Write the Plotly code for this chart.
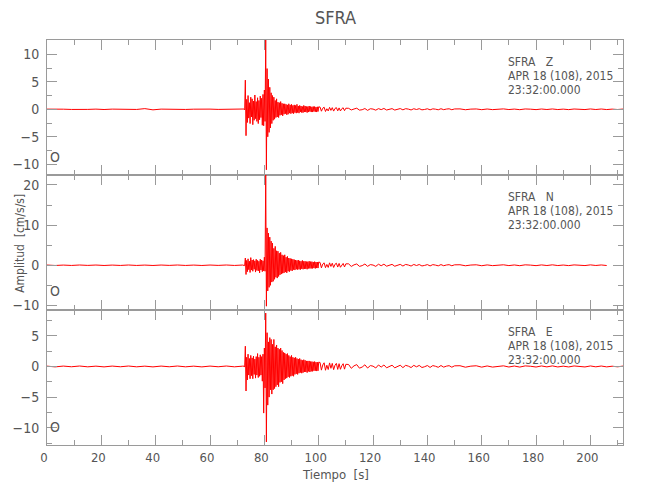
import numpy as np
import plotly.graph_objects as go
from plotly.subplots import make_subplots

# ---- sampling times (s) ----
t_quiet = np.arange(0, 72.01, 3)         # 25 samples
t_dense = np.arange(72.5, 100.01, 0.25)  # 111 samples
t_tail = np.arange(100.5, 110.01, 0.5)   # 20 samples
t_coda1 = np.arange(111, 150.01, 1)      # 40 samples
t_coda2 = np.arange(152, 212.01, 2)      # 31 samples

# ---- Z component (cm/s/s) ----
z_quiet = [0.03, -0.04, 0.02, -0.03, 0.04, -0.02, 0.03, -0.04, 0.03, -0.02, 0.04, -0.03, 0.12,
           -0.1, 0.03, -0.02, 0.04, -0.03, 0.02, -0.04, 0.03, -0.02, 0.04, -0.03, 0.03]
z_dense = [0.05, -0.1, 5.3, -4.8, 1.8, -2.4, 2.5, -1.6, 1.2, -2.6,
           2.2, -1.4, 1.9, -2.8, 1.5, -2.0, 2.6, -1.7, 1.4, -2.2,
           2.1, -2.6, 1.6, -1.9, 2.4, -1.5, 2.0, -2.9, 2.7, -3.0,
           3.5, -2.2, 12.6, -11.0, 7.4, -5.0, 5.5, -4.2, 4.0, -3.4,
           3.0, -2.6, 2.5, -2.0, 2.2, -1.8, 1.6, -1.5, 1.9, -1.4,
           1.3, -1.5, 1.2, -1.1, 1.4, -1.0, 1.1, -1.2, 1.0, -0.9,
           1.0, -0.8, 0.9, -1.0, 0.8, -0.9, 1.0, -0.7, 0.8, -0.8,
           0.9, -0.7, 0.7, -0.8, 0.8, -0.6, 0.7, -0.7, 0.9, -0.6,
           0.6, -0.7, 0.7, -0.5, 0.6, -0.6, 0.5, -0.6, 0.7, -0.5,
           0.6, -0.5, 0.5, -0.6, 0.5, -0.5, 0.6, -0.4, 0.5, -0.5,
           0.45, -0.5, 0.5, -0.4, 0.5, -0.45, 0.4, -0.5, 0.45, -0.4,
           0.45]
z_tail = [0.4, -0.35, 0.2, 0.38, -0.4, 0.1, -0.3, 0.35, -0.2, 0.3,
          -0.33, 0.15, 0.3, -0.28, 0.25, -0.3, 0.1, 0.28, -0.25, 0.2]
z_coda1 = [0.18, -0.12, 0.05, 0.2, -0.15, -0.08, 0.14, -0.2, 0.1, 0.04,
           -0.16, 0.12, -0.06, 0.15, -0.13, 0.02, 0.12, -0.14, -0.05, 0.13,
           -0.1, 0.11, 0.03, -0.12, 0.1, -0.04, 0.11, -0.1, -0.03, 0.09,
           -0.1, 0.08, 0.02, -0.09, 0.1, -0.07, 0.04, 0.09, -0.08, 0.06]
z_coda2 = [0.07, -0.08, 0.03, 0.06, -0.07, 0.05, -0.06, -0.02, 0.07, -0.05,
           0.04, -0.07, 0.06, 0.02, -0.06, 0.05, -0.04, 0.06, -0.05, 0.03,
           -0.06, 0.05, 0.02, -0.05, 0.06, -0.04, 0.05, -0.05, 0.03, -0.04, 0.04]

# ---- N component ----
n_quiet = [0.05, -0.06, 0.04, -0.05, 0.06, -0.04, 0.05, -0.06, 0.04, -0.05, 0.06, -0.05, 0.04,
           -0.06, 0.05, -0.04, 0.06, -0.05, 0.04, -0.06, 0.05, -0.04, 0.06, -0.05, 0.05]
n_dense = [0.05, -0.1, 1.8, -2.3, 1.2, -1.6, 1.6, -1.1, 1.0, -1.8,
           1.9, -1.2, 1.3, -1.5, 1.4, -1.0, 1.1, -1.7, 1.5, -1.3,
           1.2, -1.4, 1.0, -1.9, 1.5, -1.2, 1.3, -1.6, 1.1, -1.4,
           2.0, -1.5, 22.6, -10.2, 9.3, -6.4, 8.0, -5.5, 7.0, -5.0,
           6.0, -4.2, 5.5, -4.0, 4.2, -3.5, 4.7, -3.0, 3.6, -3.2,
           3.5, -2.8, 3.0, -2.4, 3.2, -2.2, 2.6, -2.0, 2.4, -1.9,
           2.6, -1.7, 2.0, -1.9, 2.2, -1.5, 1.8, -1.6, 1.7, -1.3,
           1.6, -1.4, 1.5, -1.1, 1.4, -1.2, 1.3, -1.0, 1.2, -1.1,
           1.3, -1.0, 1.1, -1.1, 1.0, -0.9, 1.2, -1.0, 1.0, -0.9,
           1.0, -0.9, 0.9, -1.0, 0.9, -0.8, 1.0, -0.8, 0.9, -0.8,
           0.9, -0.8, 0.8, -0.7, 0.9, -0.8, 0.8, -0.7, 0.8, -0.7,
           0.8]
n_tail = [0.7, -0.65, 0.3, 0.6, -0.6, 0.2, -0.55, 0.6, -0.3, 0.5,
          -0.55, 0.25, 0.5, -0.45, 0.45, -0.5, 0.15, 0.45, -0.42, 0.35]
n_coda1 = [0.35, -0.3, 0.1, 0.32, -0.28, -0.1, 0.3, -0.27, 0.15, 0.05,
           -0.28, 0.25, -0.12, 0.26, -0.24, 0.05, 0.22, -0.25, -0.08, 0.22,
           -0.2, 0.2, 0.05, -0.2, 0.19, -0.07, 0.18, -0.18, -0.04, 0.16,
           -0.17, 0.15, 0.03, -0.15, 0.16, -0.12, 0.06, 0.14, -0.13, 0.1]
n_coda2 = [0.12, -0.13, 0.05, 0.11, -0.12, 0.08, -0.1, -0.03, 0.11, -0.09,
           0.07, -0.11, 0.1, 0.03, -0.1, 0.08, -0.07, 0.1, -0.08, 0.05,
           -0.09, 0.08, 0.03, -0.08, 0.09, -0.06, 0.07, -0.07]

# ---- E component ----
e_quiet = [0.05, -0.07, 0.06, -0.05, 0.07, -0.06, 0.05, -0.07, 0.06, -0.05, 0.07, -0.06, 0.05,
           -0.07, 0.06, -0.05, 0.07, -0.06, 0.05, -0.07, 0.06, -0.05, 0.07, -0.06, 0.05]
e_dense = [0.05, -0.1, 3.3, -4.0, 1.5, -2.2, 2.0, -1.4, 1.3, -2.0,
           1.8, -1.5, 1.4, -2.0, 1.7, -1.3, 1.2, -1.9, 1.6, -1.4,
           2.1, -1.8, 1.5, -1.6, 1.9, -1.4, 1.6, -2.4, 2.0, -7.6,
           3.0, -3.5, 8.7, -12.3, 5.5, -6.3, 4.0, -5.0, 4.7, -3.8,
           4.4, -4.5, 3.6, -3.8, 4.4, -3.6, 3.2, -3.3, 3.5, -3.0,
           3.0, -3.3, 2.8, -2.6, 3.0, -2.5, 2.6, -2.8, 2.3, -2.2,
           2.2, -2.0, 2.0, -1.9, 2.1, -1.7, 1.8, -1.8, 1.6, -1.6,
           1.8, -1.5, 1.5, -1.6, 1.4, -1.3, 1.5, -1.2, 1.3, -1.3,
           1.2, -1.1, 1.3, -1.0, 1.1, -1.1, 1.0, -1.0, 1.1, -0.9,
           1.0, -0.9, 0.9, -1.0, 0.9, -0.8, 0.9, -0.9, 0.8, -0.8,
           0.8, -0.8, 0.75, -0.7, 0.8, -0.7, 0.7, -0.75, 0.7, -0.7,
           0.7]
e_tail = [0.65, -0.6, 0.25, 0.6, -0.62, 0.2, -0.5, 0.58, -0.3, 0.5,
          -0.52, 0.2, 0.5, -0.48, 0.45, -0.46, 0.12, 0.45, -0.44, 0.35]
e_coda1 = [0.32, -0.3, 0.1, 0.3, -0.28, -0.1, 0.27, -0.26, 0.14, 0.05,
           -0.25, 0.24, -0.1, 0.24, -0.22, 0.05, 0.2, -0.22, -0.07, 0.2,
           -0.19, 0.18, 0.05, -0.18, 0.18, -0.06, 0.17, -0.17, -0.04, 0.15,
           -0.16, 0.14, 0.03, -0.14, 0.15, -0.11, 0.05, 0.13, -0.12, 0.1]
e_coda2 = [0.12, -0.12, 0.05, 0.11, -0.11, 0.08, -0.1, -0.03, 0.1, -0.09,
           0.07, -0.1, 0.09, 0.03, -0.09, 0.08, -0.07, 0.09, -0.08, 0.05,
           -0.08, 0.08, 0.03, -0.08, 0.08, -0.06, 0.07, -0.07, 0.04, -0.06, 0.06]

components = ["Z", "N", "E"]
station = "SFRA"
date_line = "APR 18 (108), 2015"
time_line = "23:32:00.000"
y_ranges = [[-11.95, 12.6], [-11.15, 22.48], [-12.8, 9.2]]
y_dticks = [5, 10, 5]
o_marks = [-8.7, -6.4, -9.8]


def build(parts):
    vals = [v for p in parts for v in p]
    times = np.concatenate([t_quiet, t_dense, t_tail, t_coda1, t_coda2])[:len(vals)]
    return times, np.array(vals)


series = [build([z_quiet, z_dense, z_tail, z_coda1, z_coda2]),
          build([n_quiet, n_dense, n_tail, n_coda1, n_coda2]),
          build([e_quiet, e_dense, e_tail, e_coda1, e_coda2])]

FONT = "DejaVu Sans Condensed, Liberation Sans Narrow, Roboto, sans-serif"
TXT = "#555555"
AX = "#9a9a9a"

fig = make_subplots(rows=3, cols=1, shared_xaxes=True, vertical_spacing=0)

for i, (tt, vv) in enumerate(series):
    fig.add_trace(go.Scatter(x=tt, y=vv, mode="lines",
                             line=dict(color="#ff0000", width=1),
                             showlegend=False, hoverinfo="skip"),
                  row=i + 1, col=1)

for i in range(3):
    r = i + 1
    fig.update_yaxes(row=r, col=1, range=y_ranges[i], dtick=y_dticks[i],
                     ticks="inside", ticklen=10, tickcolor=AX, tickwidth=1,
                     minor=dict(ticks="inside", ticklen=5, dtick=y_dticks[i] / 2,
                                tickcolor=AX, showgrid=False),
                     showline=True, linecolor=AX, linewidth=1, mirror="ticks",
                     showgrid=False, zeroline=False, automargin=False,
                     ticklabelstandoff=4,
                     tickfont=dict(family=FONT, size=14, color=TXT))
    fig.update_xaxes(row=r, col=1, range=[0, 212], dtick=20,
                     ticks="inside", ticklen=10, tickcolor=AX, tickwidth=1,
                     minor=dict(ticks="inside", ticklen=5, dtick=10,
                                tickcolor=AX, showgrid=False),
                     showline=True, linecolor=AX, linewidth=1, mirror="ticks",
                     showgrid=False, zeroline=False, automargin=False,
                     showticklabels=(r == 3), ticklabelshift=-3,
                     tickfont=dict(family=FONT, size=13, color=TXT))

    yref = "y domain" if r == 1 else f"y{r} domain"
    xref = "x" if r == 1 else f"x{r}"
    lines = [station + "\u00a0\u00a0\u00a0" + components[i], date_line, time_line]
    for txt, yy in zip(lines, [0.839, 0.735, 0.630]):
        fig.add_annotation(x=169, y=yy, xref=xref, yref=yref, text=txt,
                           showarrow=False, xanchor="left", yanchor="middle",
                           font=dict(family=FONT, size=12, color=TXT))
    fig.add_annotation(x=2.8, y=o_marks[i], xref=xref,
                       yref=("y" if r == 1 else f"y{r}"), text="O",
                       showarrow=False, xanchor="center", yanchor="middle",
                       font=dict(family=FONT, size=14, color=TXT))

fig.add_annotation(x=0.5, y=-0.074, xref="paper", yref="paper", text="Tiempo\u00a0\u00a0[s]",
                   showarrow=False, xanchor="center", yanchor="middle",
                   font=dict(family=FONT, size=13, color=TXT))
fig.add_annotation(x=-0.047, y=0.499, xref="paper", yref="paper",
                   text="Amplitud\u00a0\u00a0[cm/s/s]", textangle=-90,
                   showarrow=False, xanchor="center", yanchor="middle",
                   font=dict(family=FONT, size=12, color=TXT))

# page body adds an 8 px offset; margins compensate so the frame lands where the reference has it
fig.update_layout(
    width=650, height=500,
    margin=dict(l=39, r=35, t=32, b=63, autoexpand=False),
    paper_bgcolor="white", plot_bgcolor="white",
    title=dict(text=station, x=0.504, xanchor="center", y=0.98, yanchor="middle",
               font=dict(family=FONT, size=18, color=TXT)),
)

fig.write_html("out.html")
